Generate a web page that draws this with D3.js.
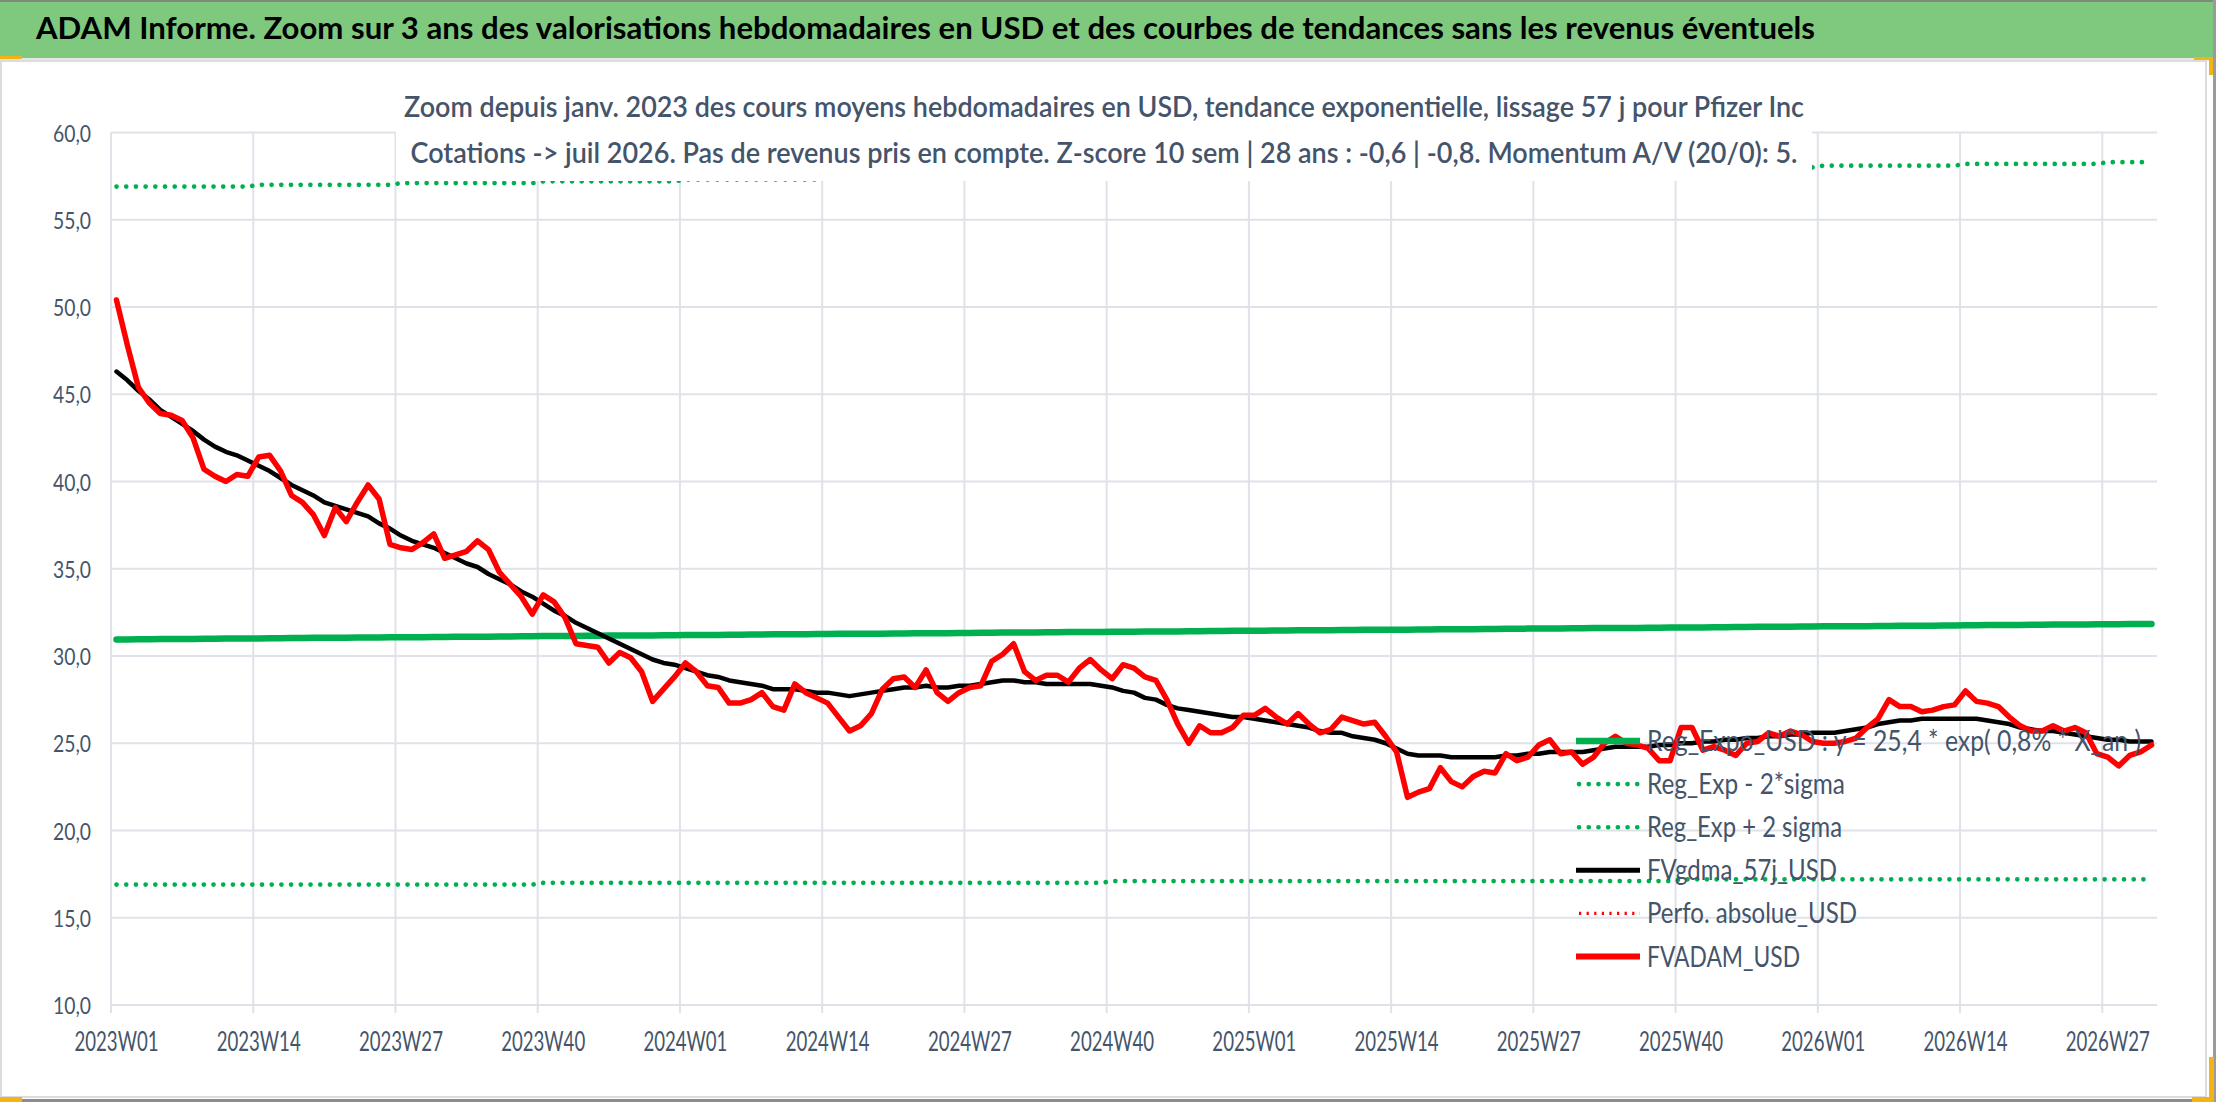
<!DOCTYPE html>
<html>
<head>
<meta charset="utf-8">
<script src="https://cdn.jsdelivr.net/npm/d3@7.9.0/dist/d3.min.js"></script>
<style>
  html, body { margin: 0; padding: 0; background: #ffffff; }
  svg { display: block; font-family: Lato, "Open Sans", "Noto Sans", sans-serif; }
</style>
</head>
<body>
<svg id="chart" width="2216" height="1102"></svg>
<script>
// weekly categories 2023W01 .. 2026W31
const years = [2023, 2024, 2025, 2026];
const weeksPerYear = [52, 52, 52, 31];
const tickLabels = ["2023W01", "2023W14", "2023W27", "2023W40", "2024W01", "2024W14", "2024W27",
  "2024W40", "2025W01", "2025W14", "2025W27", "2025W40", "2026W01", "2026W14", "2026W27"];
const yTicks = [10, 15, 20, 25, 30, 35, 40, 45, 50, 55, 60];

// FVADAM_USD (red)
const fvadam = [
  50.4, 47.8, 45.4, 44.5, 43.9, 43.8, 43.5, 42.5, 40.7, 40.3, 40.0, 40.4, 40.3,
  41.4, 41.5, 40.6, 39.2, 38.8, 38.1, 36.9, 38.5, 37.7, 38.8, 39.8, 39.0, 36.4,
  36.2, 36.1, 36.5, 37.0, 35.6, 35.8, 36.0, 36.6, 36.1, 34.8, 34.1, 33.4, 32.4,
  33.5, 33.1, 32.2, 30.7, 30.6, 30.5, 29.6, 30.2, 29.9, 29.1, 27.4, 28.1, 28.8,
  29.6, 29.1, 28.3, 28.2, 27.3, 27.3, 27.5, 27.9, 27.1, 26.9, 28.4, 27.9, 27.6,
  27.3, 26.5, 25.7, 26.0, 26.7, 28.1, 28.7, 28.8, 28.2, 29.2, 27.9, 27.4, 27.9,
  28.2, 28.3, 29.7, 30.1, 30.7, 29.1, 28.6, 28.9, 28.9, 28.5, 29.3, 29.8, 29.2,
  28.7, 29.5, 29.3, 28.8, 28.6, 27.5, 26.1, 25.0, 26.0, 25.6, 25.6, 25.9, 26.6,
  26.6, 27.0, 26.5, 26.1, 26.7, 26.1, 25.6, 25.8, 26.5, 26.3, 26.1, 26.2, 25.4,
  24.5, 21.9, 22.2, 22.4, 23.6, 22.8, 22.5, 23.1, 23.4, 23.3, 24.4, 24.0, 24.2,
  24.9, 25.2, 24.4, 24.5, 23.8, 24.2, 25.0, 25.4, 25.0, 24.9, 24.7, 24.0, 24.0,
  25.9, 25.9, 24.6, 24.8, 24.6, 24.3, 25.0, 25.1, 25.6, 25.4, 25.7, 25.5, 25.1,
  25.0, 25.0, 25.1, 25.3, 25.9, 26.4, 27.5, 27.1, 27.1, 26.8, 26.9, 27.1, 27.2,
  28.0, 27.4, 27.3, 27.1, 26.5, 26.0, 25.7, 25.7, 26.0, 25.7, 25.9, 25.6, 24.4,
  24.2, 23.7, 24.3, 24.5, 24.9
];

// FVgdma_57j_USD (black)
const fvgdma = [
  46.3, 45.8, 45.2, 44.7, 44.1, 43.7, 43.3, 42.9, 42.4, 42.0, 41.7, 41.5, 41.2,
  40.9, 40.6, 40.2, 39.8, 39.5, 39.2, 38.8, 38.6, 38.4, 38.2, 38.0, 37.6, 37.3,
  36.9, 36.6, 36.4, 36.2, 35.9, 35.6, 35.3, 35.1, 34.7, 34.4, 34.1, 33.7, 33.4,
  33.0, 32.6, 32.3, 31.9, 31.6, 31.3, 31.0, 30.7, 30.4, 30.1, 29.8, 29.6, 29.5,
  29.3, 29.1, 28.9, 28.8, 28.6, 28.5, 28.4, 28.3, 28.1, 28.1, 28.1, 28.0, 27.9,
  27.9, 27.8, 27.7, 27.8, 27.9, 28.0, 28.1, 28.2, 28.2, 28.3, 28.2, 28.2, 28.3,
  28.3, 28.4, 28.5, 28.6, 28.6, 28.5, 28.5, 28.4, 28.4, 28.4, 28.4, 28.4, 28.3,
  28.2, 28.0, 27.9, 27.6, 27.5, 27.2, 27.0, 26.9, 26.8, 26.7, 26.6, 26.5, 26.5,
  26.4, 26.3, 26.2, 26.1, 26.0, 25.9, 25.7, 25.6, 25.6, 25.4, 25.3, 25.2, 25.0,
  24.7, 24.4, 24.3, 24.3, 24.3, 24.2, 24.2, 24.2, 24.2, 24.2, 24.3, 24.3, 24.4,
  24.4, 24.5, 24.5, 24.5, 24.5, 24.6, 24.7, 24.8, 24.8, 24.8, 24.8, 24.9, 24.9,
  25.0, 25.0, 25.1, 25.1, 25.2, 25.2, 25.3, 25.3, 25.4, 25.4, 25.5, 25.5, 25.6,
  25.6, 25.6, 25.7, 25.8, 25.9, 26.1, 26.2, 26.3, 26.3, 26.4, 26.4, 26.4, 26.4,
  26.4, 26.4, 26.3, 26.2, 26.1, 25.9, 25.8, 25.7, 25.7, 25.6, 25.5, 25.4, 25.3,
  25.2, 25.2, 25.1, 25.1, 25.1
];

// Reg_Expo_USD (green, solid)
const regExpo = [
  30.95, 30.95, 30.96, 30.96, 30.97, 30.97, 30.98, 30.98, 30.99, 30.99, 31.00, 31.00, 31.01,
  31.01, 31.02, 31.02, 31.03, 31.03, 31.04, 31.04, 31.05, 31.05, 31.06, 31.06, 31.06, 31.07,
  31.07, 31.08, 31.08, 31.09, 31.09, 31.10, 31.10, 31.11, 31.11, 31.12, 31.12, 31.13, 31.13,
  31.14, 31.14, 31.15, 31.15, 31.16, 31.16, 31.17, 31.17, 31.17, 31.18, 31.18, 31.19, 31.19,
  31.20, 31.20, 31.21, 31.21, 31.22, 31.22, 31.23, 31.23, 31.24, 31.24, 31.25, 31.25, 31.26,
  31.26, 31.27, 31.27, 31.28, 31.28, 31.28, 31.29, 31.29, 31.30, 31.30, 31.31, 31.31, 31.32,
  31.32, 31.33, 31.33, 31.34, 31.34, 31.35, 31.35, 31.36, 31.36, 31.37, 31.37, 31.38, 31.38,
  31.39, 31.39, 31.39, 31.40, 31.40, 31.41, 31.41, 31.42, 31.42, 31.43, 31.43, 31.44, 31.44,
  31.45, 31.45, 31.46, 31.46, 31.47, 31.47, 31.48, 31.48, 31.49, 31.49, 31.50, 31.50, 31.50,
  31.51, 31.51, 31.52, 31.52, 31.53, 31.53, 31.54, 31.54, 31.55, 31.55, 31.56, 31.56, 31.57,
  31.57, 31.58, 31.58, 31.59, 31.59, 31.60, 31.60, 31.60, 31.61, 31.61, 31.62, 31.62, 31.63,
  31.63, 31.64, 31.64, 31.65, 31.65, 31.66, 31.66, 31.67, 31.67, 31.68, 31.68, 31.69, 31.69,
  31.70, 31.70, 31.71, 31.71, 31.71, 31.72, 31.72, 31.73, 31.73, 31.74, 31.74, 31.75, 31.75,
  31.76, 31.76, 31.77, 31.77, 31.78, 31.78, 31.79, 31.79, 31.80, 31.80, 31.81, 31.81, 31.82,
  31.82, 31.82, 31.83, 31.83, 31.84
];

// Reg_Exp + 2 sigma (green, dotted)
const regPlus = [
  56.9, 56.9, 56.9, 56.9, 56.9, 56.9, 56.9, 56.9, 56.9, 56.9, 56.9, 56.9, 56.9,
  57.0, 57.0, 57.0, 57.0, 57.0, 57.0, 57.0, 57.0, 57.0, 57.0, 57.0, 57.0, 57.0,
  57.1, 57.1, 57.1, 57.1, 57.1, 57.1, 57.1, 57.1, 57.1, 57.1, 57.1, 57.1, 57.1,
  57.2, 57.2, 57.2, 57.2, 57.2, 57.2, 57.2, 57.2, 57.2, 57.2, 57.2, 57.2, 57.2,
  57.3, 57.3, 57.3, 57.3, 57.3, 57.3, 57.3, 57.3, 57.3, 57.3, 57.3, 57.3, 57.3,
  57.4, 57.4, 57.4, 57.4, 57.4, 57.4, 57.4, 57.4, 57.4, 57.4, 57.4, 57.4, 57.4,
  57.5, 57.5, 57.5, 57.5, 57.5, 57.5, 57.5, 57.5, 57.5, 57.5, 57.5, 57.5, 57.5,
  57.6, 57.6, 57.6, 57.6, 57.6, 57.6, 57.6, 57.6, 57.6, 57.6, 57.6, 57.6, 57.6,
  57.7, 57.7, 57.7, 57.7, 57.7, 57.7, 57.7, 57.7, 57.7, 57.7, 57.7, 57.7, 57.7,
  57.8, 57.8, 57.8, 57.8, 57.8, 57.8, 57.8, 57.8, 57.8, 57.8, 57.8, 57.8, 57.8,
  57.9, 57.9, 57.9, 57.9, 57.9, 57.9, 57.9, 57.9, 57.9, 57.9, 57.9, 57.9, 57.9,
  58.0, 58.0, 58.0, 58.0, 58.0, 58.0, 58.0, 58.0, 58.0, 58.0, 58.0, 58.0, 58.0,
  58.1, 58.1, 58.1, 58.1, 58.1, 58.1, 58.1, 58.1, 58.1, 58.1, 58.1, 58.1, 58.1,
  58.2, 58.2, 58.2, 58.2, 58.2, 58.2, 58.2, 58.2, 58.2, 58.2, 58.2, 58.2, 58.2,
  58.3, 58.3, 58.3, 58.3, 58.3
];

// Reg_Exp - 2*sigma (green, dotted)
const regMinus = [
  16.9, 16.9, 16.9, 16.9, 16.9, 16.9, 16.9, 16.9, 16.9, 16.9, 16.9, 16.9, 16.9,
  16.9, 16.9, 16.9, 16.9, 16.9, 16.9, 16.9, 16.9, 16.9, 16.9, 16.9, 16.9, 16.9,
  16.9, 16.9, 16.9, 16.9, 16.9, 16.9, 16.9, 16.9, 16.9, 16.9, 16.9, 16.9, 16.9,
  17.0, 17.0, 17.0, 17.0, 17.0, 17.0, 17.0, 17.0, 17.0, 17.0, 17.0, 17.0, 17.0,
  17.0, 17.0, 17.0, 17.0, 17.0, 17.0, 17.0, 17.0, 17.0, 17.0, 17.0, 17.0, 17.0,
  17.0, 17.0, 17.0, 17.0, 17.0, 17.0, 17.0, 17.0, 17.0, 17.0, 17.0, 17.0, 17.0,
  17.0, 17.0, 17.0, 17.0, 17.0, 17.0, 17.0, 17.0, 17.0, 17.0, 17.0, 17.0, 17.0,
  17.1, 17.1, 17.1, 17.1, 17.1, 17.1, 17.1, 17.1, 17.1, 17.1, 17.1, 17.1, 17.1,
  17.1, 17.1, 17.1, 17.1, 17.1, 17.1, 17.1, 17.1, 17.1, 17.1, 17.1, 17.1, 17.1,
  17.1, 17.1, 17.1, 17.1, 17.1, 17.1, 17.1, 17.1, 17.1, 17.1, 17.1, 17.1, 17.1,
  17.1, 17.1, 17.1, 17.1, 17.1, 17.1, 17.1, 17.1, 17.1, 17.1, 17.1, 17.1, 17.1,
  17.2, 17.2, 17.2, 17.2, 17.2, 17.2, 17.2, 17.2, 17.2, 17.2, 17.2, 17.2, 17.2,
  17.2, 17.2, 17.2, 17.2, 17.2, 17.2, 17.2, 17.2, 17.2, 17.2, 17.2, 17.2, 17.2,
  17.2, 17.2, 17.2, 17.2, 17.2, 17.2, 17.2, 17.2, 17.2, 17.2, 17.2, 17.2, 17.2,
  17.2, 17.2, 17.2, 17.2, 17.2
];

const titleText = "ADAM Informe. Zoom sur 3 ans des valorisations hebdomadaires en USD et des courbes de tendances sans les revenus éventuels";
const subtitleLines = [
  "Zoom depuis janv. 2023 des cours moyens hebdomadaires en USD, tendance exponentielle, lissage 57 j pour Pfizer Inc",
  "Cotations -> juil 2026. Pas de revenus pris en compte. Z-score 10 sem | 28 ans : -0,6 | -0,8. Momentum A/V (20/0): 5."
];
const legendNames = [
  "Reg_Expo_USD : y = 25,4 * exp( 0,8% * X_an )",
  "Reg_Exp - 2*sigma",
  "Reg_Exp + 2 sigma",
  "FVgdma_57j_USD",
  "Perfo. absolue_USD",
  "FVADAM_USD"
];

const categories = [];
years.forEach((yr, k) => {
  for (let w = 1; w <= weeksPerYear[k]; w++) categories.push(`${yr}W${String(w).padStart(2, "0")}`);
});

const textColor = "#44546a";
const gridColor = "#dfe2e8";

const svg = d3.select("#chart");

// page frame + title bar
svg.append("rect").attr("x", 0).attr("y", 0).attr("width", 2216).attr("height", 1102).attr("fill", "#ffffff");
svg.append("rect").attr("x", 0).attr("y", 0).attr("width", 2216).attr("height", 58).attr("fill", "#7fc97f");
svg.append("rect").attr("x", 0).attr("y", 0).attr("width", 2216).attr("height", 2).attr("fill", "#7d8a7d");
svg.append("rect").attr("x", 0).attr("y", 58).attr("width", 2216).attr("height", 3).attr("fill", "#e4e6e8");
svg.append("rect")
  .attr("x", 1).attr("y", 61).attr("width", 2205).attr("height", 1036)
  .attr("fill", "#ffffff").attr("stroke", "#dcdcdc").attr("stroke-width", 2);
svg.append("rect").attr("x", 0).attr("y", 1099).attr("width", 2216).attr("height", 3).attr("fill", "#8c8c8c");
svg.append("rect").attr("x", 2213).attr("y", 0).attr("width", 3).attr("height", 1102).attr("fill", "#9a9a9a");

// selection handles (orange corners)
const orange = "#f2b414";
[[0, 56, 22, 3], [2194, 57, 18, 3], [2209, 57, 4, 18], [2209, 1057, 5, 45], [2192, 1097, 22, 5], [0, 1097, 22, 5]]
  .forEach(r => svg.append("rect").attr("x", r[0]).attr("y", r[1]).attr("width", r[2]).attr("height", r[3]).attr("fill", orange));

svg.append("text")
  .attr("x", 36).attr("y", 39)
  .attr("font-size", 31).attr("font-weight", "bold").attr("fill", "#000000")
  .attr("textLength", 1779).attr("lengthAdjust", "spacingAndGlyphs")
  .text(titleText);

// scales
const x = d3.scaleBand().domain(categories).range([111, 2157]);
const y = d3.scaleLinear().domain([10, 60]).range([1005, 132.5]);
const cx = i => x(categories[i]) + x.bandwidth() / 2;

// gridlines
const grid = svg.append("g");
grid.selectAll("line.h")
  .data(yTicks)
  .join("line")
  .attr("class", "h")
  .attr("x1", 111).attr("x2", 2157)
  .attr("y1", d => y(d)).attr("y2", d => y(d))
  .attr("stroke", gridColor).attr("stroke-width", 2);
grid.selectAll("line.v")
  .data(tickLabels)
  .join("line")
  .attr("class", "v")
  .attr("x1", d => x(d)).attr("x2", d => x(d))
  .attr("y1", y(60)).attr("y2", y(10) + 8)
  .attr("stroke", gridColor).attr("stroke-width", 2);

// axis labels
svg.append("g").selectAll("text")
  .data(yTicks)
  .join("text")
  .attr("x", 91).attr("y", d => y(d) + 9)
  .attr("text-anchor", "end")
  .attr("font-size", 24).attr("fill", textColor)
  .attr("textLength", 38).attr("lengthAdjust", "spacingAndGlyphs")
  .text(d => d3.format(".1f")(d).replace(".", ","));

svg.append("g").selectAll("text")
  .data(tickLabels)
  .join("text")
  .attr("x", d => x(d) + x.bandwidth() / 2).attr("y", 1051)
  .attr("text-anchor", "middle")
  .attr("font-size", 26).attr("fill", textColor)
  .attr("textLength", 84).attr("lengthAdjust", "spacingAndGlyphs")
  .text(d => d);

// series
const line = d3.line().x((d, i) => cx(i)).y(d => y(d));
const series = [
  { data: regExpo, color: "#00b050", width: 6.5 },
  { data: regMinus, color: "#00b050", width: 4.6, dash: "0.1 9.6" },
  { data: regPlus, color: "#00b050", width: 4.6, dash: "0.1 9.6" },
  { data: fvgdma, color: "#000000", width: 4.5 },
  { data: fvadam, color: "#ff0000", width: 5.5 }
];
svg.append("g").selectAll("path")
  .data(series)
  .join("path")
  .attr("d", d => line(d.data))
  .attr("fill", "none")
  .attr("stroke", d => d.color)
  .attr("stroke-width", d => d.width)
  .attr("stroke-linejoin", "round")
  .attr("stroke-linecap", "round")
  .attr("stroke-dasharray", d => d.dash || null);

// chart subtitle box (covers the plot like the Excel title)
svg.append("rect").attr("x", 396).attr("y", 78).attr("width", 1416).attr("height", 103).attr("fill", "#ffffff");
svg.append("g").selectAll("text")
  .data(subtitleLines)
  .join("text")
  .attr("x", 1104).attr("y", (d, i) => 117 + i * 46)
  .attr("text-anchor", "middle")
  .attr("font-size", 28).attr("font-weight", 600).attr("fill", textColor)
  .attr("textLength", (d, i) => [1400, 1387][i]).attr("lengthAdjust", "spacingAndGlyphs")
  .text(d => d);

// legend
const legendStyles = [
  { color: "#00b050", width: 6.5 },
  { color: "#00b050", width: 4.6, dash: "0.1 9.6", cap: "round" },
  { color: "#00b050", width: 4.6, dash: "0.1 9.6", cap: "round" },
  { color: "#000000", width: 5 },
  { color: "#ff0000", width: 3.3, dash: "2.2 5.4" },
  { color: "#ff0000", width: 6 }
];
const legendWidths = [494, 198, 195, 190, 210, 153];
const legend = svg.append("g");
const rows = legend.selectAll("g")
  .data(legendNames)
  .join("g")
  .attr("transform", (d, i) => `translate(0,${741 + i * 43.1})`);
rows.append("line")
  .attr("x1", (d, i) => legendStyles[i].dash ? 1579 : 1576)
  .attr("x2", 1640)
  .attr("y1", 0).attr("y2", 0)
  .attr("stroke", (d, i) => legendStyles[i].color)
  .attr("stroke-width", (d, i) => legendStyles[i].width)
  .attr("stroke-linecap", (d, i) => legendStyles[i].cap || "butt")
  .attr("stroke-dasharray", (d, i) => legendStyles[i].dash || null);
rows.append("text")
  .attr("x", 1647).attr("y", 10)
  .attr("font-size", 28).attr("fill", textColor)
  .attr("textLength", (d, i) => legendWidths[i]).attr("lengthAdjust", "spacingAndGlyphs")
  .text(d => d);
</script>
</body>
</html>
